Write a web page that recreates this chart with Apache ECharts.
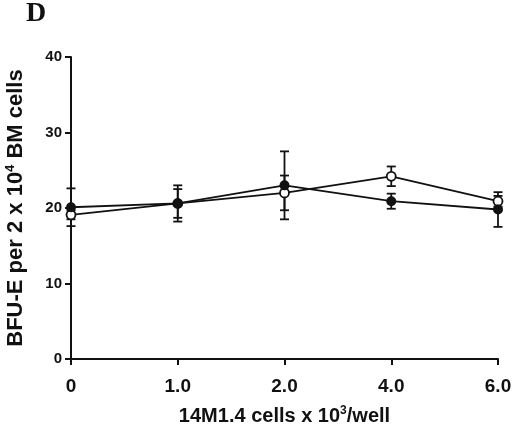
<!DOCTYPE html>
<html>
<head>
<meta charset="utf-8">
<script src="https://cdn.jsdelivr.net/npm/echarts@6/dist/echarts.min.js"></script>
<style>html,body{margin:0;padding:0;background:#fff;}#c{width:520px;height:427px;}</style>
</head>
<body>
<div id="c"></div>
<script>
var categories = ['0', '1.0', '2.0', '4.0', '6.0'];
var filledMean = [20.1, 20.6, 23.0, 20.9, 19.8];
var filledErr = [2.5, 2.4, 4.5, 1.0, 2.3];
var openMean = [19.1, 20.6, 22.0, 24.2, 20.9];
var openErr = [0.6, 1.9, 2.3, 1.3, 0.7];
var yTicks = [0, 10, 20, 30, 40];

function errData(mean, err) {
  return mean.map(function (m, i) { return [i, m - err[i], m + err[i]]; });
}
function errRender(params, api) {
  var lo = api.coord([api.value(0), api.value(1)]);
  var hi = api.coord([api.value(0), api.value(2)]);
  var w = 4.5;
  var st = { stroke: '#111', lineWidth: 1.8 };
  return {
    type: 'group',
    children: [
      { type: 'line', shape: { x1: lo[0], y1: lo[1], x2: hi[0], y2: hi[1] }, style: st },
      { type: 'line', shape: { x1: lo[0] - w, y1: lo[1], x2: lo[0] + w, y2: lo[1] }, style: st },
      { type: 'line', shape: { x1: hi[0] - w, y1: hi[1], x2: hi[0] + w, y2: hi[1] }, style: st }
    ]
  };
}
var chart = echarts.init(document.getElementById('c'));
var font = 'Liberation Sans, Arial, sans-serif';
chart.setOption({
  backgroundColor: '#fff',
  animation: false,
  title: {
    text: 'D', left: 21, top: -5,
    textStyle: { fontFamily: 'Liberation Serif, Times New Roman, serif', fontWeight: 'bold', fontSize: 28, color: '#111' }
  },
  grid: { left: 71, right: 22, top: 57, bottom: 68, containLabel: false, outerBoundsMode: 'none' },
  xAxis: {
    type: 'category',
    data: categories,
    boundaryGap: false,
    axisLine: { lineStyle: { color: '#111', width: 2 } },
    axisTick: { show: true, length: 6, lineStyle: { color: '#111', width: 2 } },
    axisLabel: { color: '#111', fontFamily: font, fontWeight: 'bold', fontSize: 19, margin: 18 },
    name: '{n|14M1.4 cells x 10}{s|3}{n|/well}',
    nameLocation: 'middle',
    nameGap: 46,
    nameTextStyle: {
      rich: {
        n: { fontFamily: font, fontWeight: 'bold', fontSize: 20, color: '#111' },
        s: { fontFamily: font, fontWeight: 'bold', fontSize: 12, color: '#111', verticalAlign: 'top', padding: [0, 0, 10, 0] }
      }
    }
  },
  yAxis: {
    type: 'value',
    min: yTicks[0],
    max: yTicks[yTicks.length - 1],
    interval: 10,
    splitLine: { show: false },
    axisLine: { show: true, lineStyle: { color: '#111', width: 2 } },
    axisTick: { show: true, length: 6, lineStyle: { color: '#111', width: 2 } },
    axisLabel: { color: '#111', fontFamily: font, fontWeight: 'bold', fontSize: 15, margin: 9 },
    name: '{n|BFU-E per 2 x 10}{s|4}{n| BM cells}',
    nameLocation: 'middle',
    nameGap: 44,
    nameTextStyle: {
      rich: {
        n: { fontFamily: font, fontWeight: 'bold', fontSize: 22, color: '#111' },
        s: { fontFamily: font, fontWeight: 'bold', fontSize: 13, color: '#111', verticalAlign: 'top', padding: [0, 0, 10, 0] }
      }
    }
  },
  series: [
    {
      type: 'custom', renderItem: errRender, data: errData(openMean, openErr), z: 2,
      encode: { x: 0, y: [1, 2] }
    },
    {
      type: 'custom', renderItem: errRender, data: errData(filledMean, filledErr), z: 2,
      encode: { x: 0, y: [1, 2] }
    },
    {
      type: 'line', data: openMean, symbol: 'circle', symbolSize: 9, z: 3,
      lineStyle: { color: '#111', width: 1.8 },
      itemStyle: { color: '#fff', borderColor: '#111', borderWidth: 1.8 }
    },
    {
      type: 'line', data: filledMean, symbol: 'circle', symbolSize: 10, z: 4,
      lineStyle: { color: '#111', width: 1.8 },
      itemStyle: { color: '#111', borderColor: '#111', borderWidth: 0 }
    }
  ]
});
</script>
</body>
</html>
